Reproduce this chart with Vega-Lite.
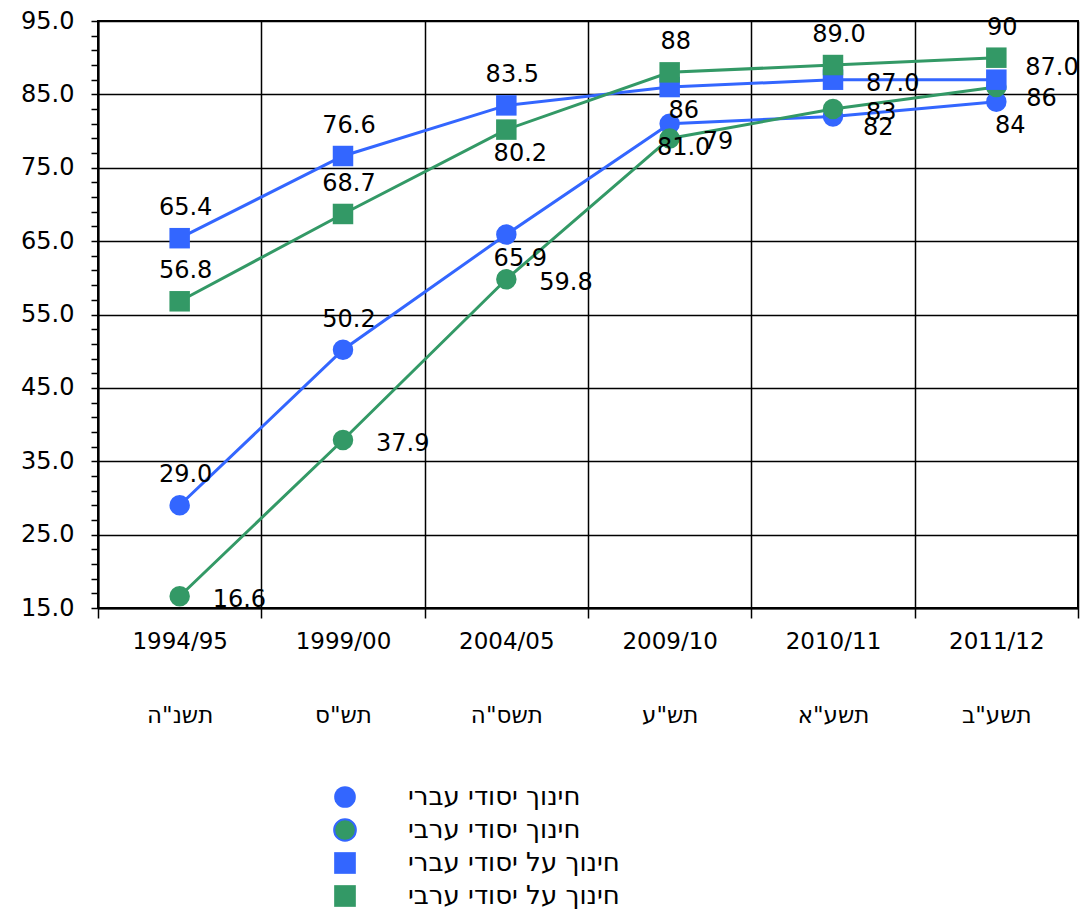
{
  "$schema": "https://vega.github.io/schema/vega-lite/v6.json",
  "width": 980,
  "height": 587,
  "autosize": "none",
  "padding": {"left": 98, "top": 21, "right": 3, "bottom": 311},
  "background": "white",
  "config": {
    "font": "DejaVu Sans",
    "view": {"stroke": "black", "strokeWidth": 2}
  },
  "data": {
    "values": [
      {"year": "1994/95", "series": "חינוך יסודי עברי", "value": 29.0, "label": "29.0"},
      {"year": "1999/00", "series": "חינוך יסודי עברי", "value": 50.2, "label": "50.2"},
      {"year": "2004/05", "series": "חינוך יסודי עברי", "value": 65.9, "label": "65.9"},
      {"year": "2009/10", "series": "חינוך יסודי עברי", "value": 81.0, "label": "81.0"},
      {"year": "2010/11", "series": "חינוך יסודי עברי", "value": 82, "label": "82"},
      {"year": "2011/12", "series": "חינוך יסודי עברי", "value": 84, "label": "84"},
      {"year": "1994/95", "series": "חינוך יסודי ערבי", "value": 16.6, "label": "16.6"},
      {"year": "1999/00", "series": "חינוך יסודי ערבי", "value": 37.9, "label": "37.9"},
      {"year": "2004/05", "series": "חינוך יסודי ערבי", "value": 59.8, "label": "59.8"},
      {"year": "2009/10", "series": "חינוך יסודי ערבי", "value": 79, "label": "79"},
      {"year": "2010/11", "series": "חינוך יסודי ערבי", "value": 83, "label": "83"},
      {"year": "2011/12", "series": "חינוך יסודי ערבי", "value": 86, "label": "86"},
      {"year": "1994/95", "series": "חינוך על יסודי עברי", "value": 65.4, "label": "65.4"},
      {"year": "1999/00", "series": "חינוך על יסודי עברי", "value": 76.6, "label": "76.6"},
      {"year": "2004/05", "series": "חינוך על יסודי עברי", "value": 83.5, "label": "83.5"},
      {"year": "2009/10", "series": "חינוך על יסודי עברי", "value": 86, "label": "86"},
      {"year": "2010/11", "series": "חינוך על יסודי עברי", "value": 87.0, "label": "87.0"},
      {"year": "2011/12", "series": "חינוך על יסודי עברי", "value": 87.0, "label": "87.0"},
      {"year": "1994/95", "series": "חינוך על יסודי ערבי", "value": 56.8, "label": "56.8"},
      {"year": "1999/00", "series": "חינוך על יסודי ערבי", "value": 68.7, "label": "68.7"},
      {"year": "2004/05", "series": "חינוך על יסודי ערבי", "value": 80.2, "label": "80.2"},
      {"year": "2009/10", "series": "חינוך על יסודי ערבי", "value": 88, "label": "88"},
      {"year": "2010/11", "series": "חינוך על יסודי ערבי", "value": 89.0, "label": "89.0"},
      {"year": "2011/12", "series": "חינוך על יסודי ערבי", "value": 90, "label": "90"}
    ]
  },
  "encoding": {
    "x": {
      "field": "year",
      "type": "ordinal",
      "sort": null,
      "scale": {"type": "band", "paddingInner": 0, "paddingOuter": 0},
      "axis": {
        "title": null,
        "labelAngle": 0,
        "tickBand": "extent",
        "grid": true,
        "gridColor": "black",
        "gridWidth": 1.5,
        "gridOpacity": 1,
        "tickColor": "black",
        "tickSize": 10,
        "tickWidth": 1.5,
        "domainColor": "black",
        "domainWidth": 2,
        "labelFontSize": 23,
        "labelColor": "black",
        "labelPadding": 12,
        "labelBaseline": "top",
        "labelLineHeight": 74,
        "labelExpr": "[datum.label, ['תשנ\"ה','תש\"ס','תשס\"ה','תש\"ע','תשע\"א','תשע\"ב'][indexof(['1994/95','1999/00','2004/05','2009/10','2010/11','2011/12'], datum.label)]]"
      }
    },
    "y": {
      "field": "value",
      "type": "quantitative",
      "scale": {"domain": [15, 95], "nice": false, "zero": false},
      "axis": {
        "title": null,
        "values": [15, 17, 19, 21, 23, 25, 27, 29, 31, 33, 35, 37, 39, 41, 43, 45, 47, 49, 51, 53, 55, 57, 59, 61, 63, 65, 67, 69, 71, 73, 75, 77, 79, 81, 83, 85, 87, 89, 91, 93, 95],
        "labelExpr": "(datum.value - 15) % 10 === 0 ? format(datum.value, '.1f') : ''",
        "labelOverlap": false,
        "labelFlush": false,
        "grid": true,
        "gridColor": "black",
        "gridWidth": 1.5,
        "gridOpacity": {"condition": {"test": "(datum.value - 15) % 10 === 0", "value": 1}, "value": 0},
        "tickColor": "black",
        "tickSize": 7,
        "tickWidth": 1.5,
        "domainColor": "black",
        "domainWidth": 2,
        "labelFontSize": 24,
        "labelColor": "black",
        "labelPadding": 17
      }
    }
  },
  "layer": [
    {
      "mark": {"type": "line", "strokeWidth": 3},
      "encoding": {
        "detail": {"field": "series", "type": "nominal"},
        "stroke": {
          "condition": {"test": "indexof(datum.series, 'עברי') >= 0", "value": "#3366FF"},
          "value": "#339966"
        }
      }
    },
    {
      "mark": {"type": "point", "filled": true, "opacity": 1, "size": 420},
      "encoding": {
        "color": {
          "field": "series",
          "type": "nominal",
          "scale": {
            "domain": ["חינוך יסודי עברי", "חינוך יסודי ערבי", "חינוך על יסודי עברי", "חינוך על יסודי ערבי"],
            "range": ["#3366FF", "#339966", "#3366FF", "#339966"]
          },
          "legend": {
            "title": null,
            "orient": "none",
            "legendX": 234,
            "legendY": 763,
            "direction": "vertical",
            "padding": 0,
            "labelFontSize": 26,
            "labelColor": "black",
            "labelOffset": 50,
            "labelLimit": 400,
            "rowPadding": 3,
            "symbolSize": 470,
            "symbolOpacity": 1,
            "encode": {
              "symbols": {
                "update": {
                  "fill": {"signal": "datum.value === 'חינוך יסודי ערבי' ? '#008000' : scale('color', datum.value)"},
                  "stroke": {"signal": "datum.value === 'חינוך יסודי ערבי' ? '#3366FF' : 'transparent'"},
                  "strokeWidth": {"value": 2}
                }
              }
            }
          }
        },
        "shape": {
          "field": "series",
          "type": "nominal",
          "scale": {
            "domain": ["חינוך יסודי עברי", "חינוך יסודי ערבי", "חינוך על יסודי עברי", "חינוך על יסודי ערבי"],
            "range": ["circle", "circle", "square", "square"]
          }
        }
      }
    },
    {
      "transform": [
        {"filter": "(datum.series === 'חינוך על יסודי ערבי' && datum.year !== '2004/05') || (datum.series === 'חינוך על יסודי עברי' && indexof(['1994/95','1999/00','2004/05'], datum.year) >= 0) || (datum.series === 'חינוך יסודי עברי' && indexof(['1994/95','1999/00'], datum.year) >= 0)"}
      ],
      "mark": {"type": "text", "fontSize": 24, "color": "black", "align": "center", "baseline": "middle", "dx": 6, "dy": -30},
      "encoding": {"text": {"field": "label", "type": "nominal"}}
    },
    {
      "transform": [
        {"filter": "(datum.series === 'חינוך על יסודי עברי' && datum.year === '2009/10') || (datum.series === 'חינוך יסודי עברי' && indexof(['2004/05','2009/10','2011/12'], datum.year) >= 0) || (datum.series === 'חינוך על יסודי ערבי' && datum.year === '2004/05')"}
      ],
      "mark": {"type": "text", "fontSize": 24, "color": "black", "align": "center", "baseline": "middle", "dx": 14, "dy": 24},
      "encoding": {"text": {"field": "label", "type": "nominal"}}
    },
    {
      "transform": [
        {"filter": "(datum.series === 'חינוך יסודי ערבי' && datum.year !== '2011/12') || (datum.series === 'חינוך על יסודי עברי' && datum.year === '2010/11')"}
      ],
      "mark": {"type": "text", "fontSize": 24, "color": "black", "align": "left", "baseline": "middle", "dx": 33, "dy": 4},
      "encoding": {"text": {"field": "label", "type": "nominal"}}
    },
    {
      "transform": [
        {"filter": "(datum.series === 'חינוך יסודי ערבי' && datum.year === '2011/12') || (datum.series === 'חינוך יסודי עברי' && datum.year === '2010/11')"}
      ],
      "mark": {"type": "text", "fontSize": 24, "color": "black", "align": "left", "baseline": "middle", "dx": 30, "dy": 12},
      "encoding": {"text": {"field": "label", "type": "nominal"}}
    },
    {
      "transform": [
        {"filter": "datum.series === 'חינוך על יסודי עברי' && datum.year === '2011/12'"}
      ],
      "mark": {"type": "text", "fontSize": 24, "color": "black", "align": "left", "baseline": "middle", "dx": 29, "dy": -12},
      "encoding": {"text": {"field": "label", "type": "nominal"}}
    }
  ]
}
